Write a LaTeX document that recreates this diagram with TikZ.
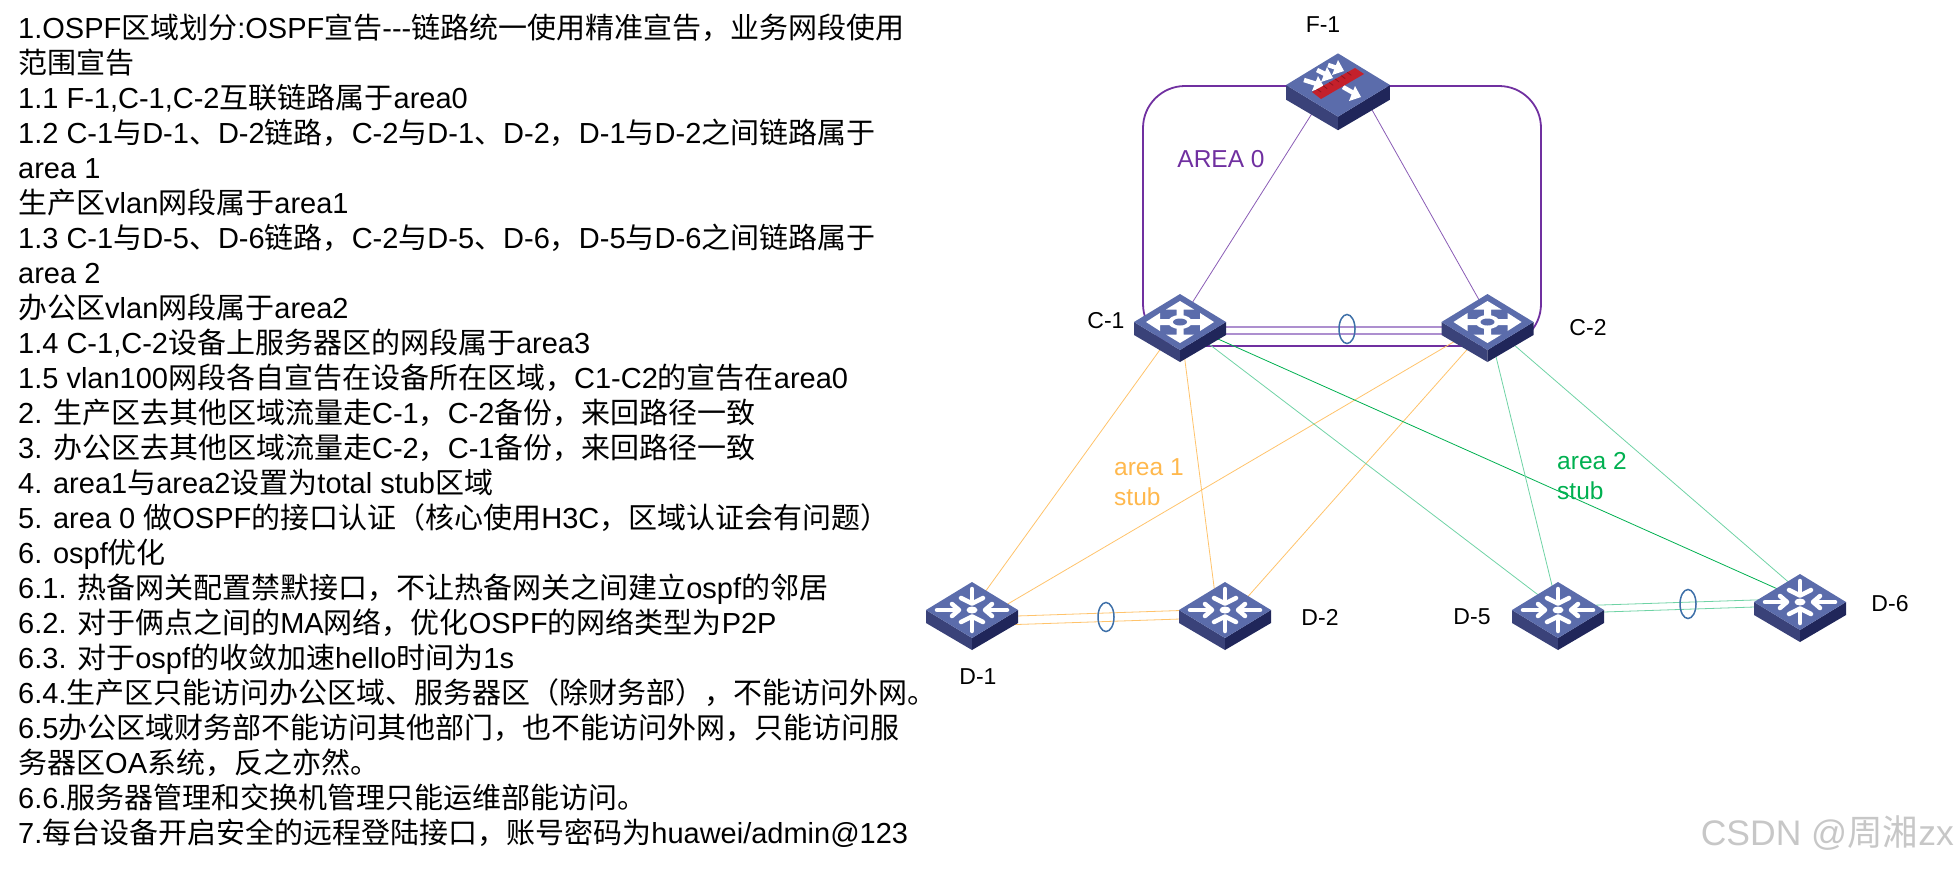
\documentclass[tikz,border=0pt]{standalone}
\usepackage{fontspec}
\usetikzlibrary{shapes.geometric}
\setmainfont{Liberation Sans}
\newfontfamily\latf{Liberation Sans}
\newfontfamily\cjk{Noto Sans CJK SC}
\newXeTeXintercharclass\cjkcls
\newcount\cjkloop
\cjkloop="4E00 \loop \XeTeXcharclass\cjkloop=\cjkcls \advance\cjkloop 1 \ifnum\cjkloop<"A000 \repeat
\XeTeXcharclass"3001=\cjkcls \XeTeXcharclass"3002=\cjkcls
\XeTeXcharclass"FF0C=\cjkcls \XeTeXcharclass"FF08=\cjkcls \XeTeXcharclass"FF09=\cjkcls
\XeTeXinterchartoks 0 \cjkcls={\cjk}
\XeTeXinterchartoks 4095 \cjkcls={\cjk}
\XeTeXinterchartoks \cjkcls 0={\latf}
\XeTeXinterchartoks \cjkcls 4095={\latf}
\XeTeXinterchartokenstate=1
\definecolor{devtop}{HTML}{5B6CAB}
\definecolor{devleft}{HTML}{3A4279}
\definecolor{devright}{HTML}{20265A}
\definecolor{areapurple}{HTML}{7030A0}
\definecolor{linkpurple}{HTML}{8A5CB5}
\definecolor{palepurple}{HTML}{AD8FCF}
\definecolor{linkorange}{HTML}{FFC36B}
\definecolor{labelorange}{HTML}{FFB84D}
\definecolor{linkgreen}{HTML}{6FD3A5}
\definecolor{areagreen}{HTML}{00B050}
\definecolor{lagblue}{HTML}{3D6FA8}
\definecolor{fwred}{HTML}{C4202B}
\definecolor{fwdark}{HTML}{8E1520}
\tikzset{
  devanchor/.style={inner sep=0pt,minimum width=92pt,minimum height=56pt},
  lbl/.style={font=\fontsize{23}{27}\selectfont,text=black,inner sep=0pt},
  arealbl/.style={font=\fontsize{24.5}{30}\selectfont,align=left,inner sep=0pt,anchor=west},
  linkP/.style={linkpurple,line width=0.8pt},
  linkPP/.style={palepurple,line width=1.2pt},
  linkO/.style={linkorange,line width=0.8pt},
  linkG/.style={linkgreen,line width=0.8pt},
  linkDG/.style={areagreen,line width=0.8pt},
  lagring/.style={draw=lagblue,line width=1.5pt,ellipse,inner sep=0pt,minimum width=16pt,minimum height=29pt},
  pics/devbase/.style={code={
    \fill[devleft] (-46,0)--(0,28)--(0,40)--(-46,13)--cycle;
    \fill[devright] (46,0)--(0,28)--(0,40)--(46,13)--cycle;
    \fill[devtop] (-46,0)--(0,-28)--(46,0)--(0,28)--cycle;
  }},
  pics/corearrows/.style={code={
    \fill[white] (-34,0)--(-20,-9)--(-20,-3)--(-10,-3)--(-10,3)--(-20,3)--(-20,9)--cycle;
    \fill[white] (34,0)--(20,-9)--(20,-3)--(10,-3)--(10,3)--(20,3)--(20,9)--cycle;
    \fill[white] (0,-21)--(14,-12.5)--(3.5,-12.5)--(3.5,-5)--(-3.5,-5)--(-3.5,-12.5)--(-14,-12.5)--cycle;
    \fill[white] (0,21)--(14,12.5)--(3.5,12.5)--(3.5,5)--(-3.5,5)--(-3.5,12.5)--(-14,12.5)--cycle;
    \fill[white] (0,0) ellipse [x radius=12pt,y radius=7pt];
    \fill[devtop] (0,0) ellipse [x radius=7pt,y radius=3.5pt];
  }},
  pics/aggarrows/.style={code={
    \foreach \s in {1,-1}{
      \draw[white,line width=4.5pt,line cap=round] (-35*\s,0)--(-16*\s,0);
      \draw[white,line width=4.5pt,line cap=round,line join=round] (-20*\s,-6)--(-13*\s,0)--(-20*\s,6);
      \draw[white,line width=4.5pt,line cap=round] (0,-21*\s)--(0,-8*\s);
      \draw[white,line width=4.5pt,line cap=round,line join=round] (-11*\s,-12*\s)--(0,-6.5*\s)--(11*\s,-12*\s);
    }
    \fill[white] (0,0) ellipse [x radius=5.5pt,y radius=3.5pt];
  }},
  pics/fwarrows/.style={code={
    \foreach \ax/\ay/\bx/\by in {-10/-20/6/-14,-21/-15/-5/-7,-34/-5/-14/2,5/2/23/12}{
      \draw[white,line width=4.5pt] (\ax,\ay)--(\bx-4,\by-2);
      \fill[white] (\bx,\by)--(\bx-12,\by+4)--(\bx-6,\by-11)--cycle;
    }
    \fill[fwred] (-26,7)--(17,-17)--(26,-11)--(-17,14)--cycle;
    \foreach \t in {0.12,0.26,...,0.9}{
      \draw[fwdark,line width=0.8pt] ({-26+43*\t},{7-24*\t})--({-22+43*\t},{10-24*\t});
    }
  }},
}
\begin{document}
\begin{tikzpicture}[x=1pt,y=-1pt]
\useasboundingbox (0,0) rectangle (1959,868);
% text block
\node[anchor=north west,inner sep=0pt,align=left,font=\fontsize{29}{35}\selectfont] (notes) at (18,13.5) {%
1.OSPF区域划分:OSPF宣告---链路统一使用精准宣告，业务网段使用\\
范围宣告\\
1.1 F-1,C-1,C-2互联链路属于area0\\
1.2 C-1与D-1、D-2链路，C-2与D-1、D-2，D-1与D-2之间链路属于\\
area 1\\
生产区vlan网段属于area1\\
1.3 C-1与D-5、D-6链路，C-2与D-5、D-6，D-5与D-6之间链路属于\\
area 2\\
办公区vlan网段属于area2\\
1.4 C-1,C-2设备上服务器区的网段属于area3\\
1.5 vlan100网段各自宣告在设备所在区域，C1-C2的宣告在area0\\
2. 生产区去其他区域流量走C-1，C-2备份，来回路径一致\\
3. 办公区去其他区域流量走C-2，C-1备份，来回路径一致\\
4. area1与area2设置为total stub区域\\
5. area 0 做OSPF的接口认证（核心使用H3C，区域认证会有问题）\\
6. ospf优化\\
6.1. 热备网关配置禁默接口，不让热备网关之间建立ospf的邻居\\
6.2. 对于俩点之间的MA网络，优化OSPF的网络类型为P2P\\
6.3. 对于ospf的收敛加速hello时间为1s\\
6.4.生产区只能访问办公区域、服务器区（除财务部），不能访问外网。\\
6.5办公区域财务部不能访问其他部门，也不能访问外网，只能访问服\\
务器区OA系统，反之亦然。\\
6.6.服务器管理和交换机管理只能运维部能访问。\\
7.每台设备开启安全的远程登陆接口，账号密码为huawei/admin@123};
% device anchors
\node[devanchor] (F1) at (1338,85) {};
\node[devanchor] (C1) at (1180,322) {};
\node[devanchor] (C2) at (1487.5,322) {};
\node[devanchor] (D1) at (972,610) {};
\node[devanchor] (D2) at (1225,610) {};
\node[devanchor] (D5) at (1558,610) {};
\node[devanchor] (D6) at (1800,602) {};
% area 0 ring
\draw[areapurple,line width=1.8pt,rounded corners=42pt] (1143,86) rectangle (1541,346);
% links
\draw[linkP] ([xshift=-8pt]F1.center) -- (C1.center);
\draw[linkP] ([xshift=20pt]F1.center) -- ([xshift=4pt]C2.center);
\draw[linkPP] ([yshift=-5pt]C1.center) -- ([yshift=-5pt]C2.center);
\draw[linkPP] ([yshift=-12pt]C1.center) -- ([yshift=-12pt]C2.center);
\draw[linkO] (C1.center) -- (D1.center);
\draw[linkO] (C1.center) -- ([xshift=-8pt]D2.center);
\draw[linkO] (C2.center) -- ([yshift=-15pt]D1.center);
\draw[linkO] ([xshift=4pt]C2.center) -- ([xshift=11pt]D2.center);
\draw[linkG] (C1.center) -- (D5.center);
\draw[linkDG] (C1.center) -- ([yshift=3pt]D6.center);
\draw[linkG] (C2.center) -- (D5.center);
\draw[linkG] (C2.center) -- ([yshift=10pt]D6.center);
\draw[linkO] ([yshift=-7.5pt]D1.center) -- ([yshift=1pt]D2.center);
\draw[linkO] ([yshift=-16pt]D1.center) -- ([yshift=-7.5pt]D2.center);
\draw[linkG] ([yshift=3.6pt]D5.center) -- ([yshift=3.5pt]D6.center);
\draw[linkG] ([yshift=-3.5pt]D5.center) -- ([yshift=-3.5pt]D6.center);
% LAG ellipses
\node[lagring] (lagC) at (1347,329) {};
\node[lagring] (lagD12) at (1106,617) {};
\node[lagring] (lagD56) at (1688,604) {};
% devices
\pic[scale=1.13] at (F1) {devbase};
\pic at (F1) {fwarrows};
\pic at (C1) {devbase}; \pic at (C1) {corearrows};
\pic at (C2) {devbase}; \pic at (C2) {corearrows};
\pic at (D1) {devbase}; \pic at (D1) {aggarrows};
\pic at (D2) {devbase}; \pic at (D2) {aggarrows};
\pic at (D5) {devbase}; \pic at (D5) {aggarrows};
\pic at (D6) {devbase}; \pic at (D6) {aggarrows};
% labels
\node[lbl] (lF1) at (1323,25) {F-1};
\node[lbl] (lC1) at (1106,321) {C-1};
\node[lbl] (lC2) at (1588,328) {C-2};
\node[lbl] (lD1) at (978,677) {D-1};
\node[lbl] (lD2) at (1320,617) {D-2};
\node[lbl] (lD5) at (1472,617) {D-5};
\node[lbl] (lD6) at (1890,604) {D-6};
\node[font=\fontsize{24.5}{28}\selectfont,text=areapurple,inner sep=0pt] (a0) at (1221,159) {AREA 0};
\node[arealbl,text=labelorange] (a1) at (1114,482) {area 1\\stub};
\node[arealbl,text=areagreen] (a2) at (1557,476) {area 2\\stub};
\node[font=\fontsize{35.5}{40}\selectfont,text=black!22,inner sep=0pt,anchor=east] (wm) at (1954,833) {CSDN @周湘zx};
\end{tikzpicture}
\end{document}
